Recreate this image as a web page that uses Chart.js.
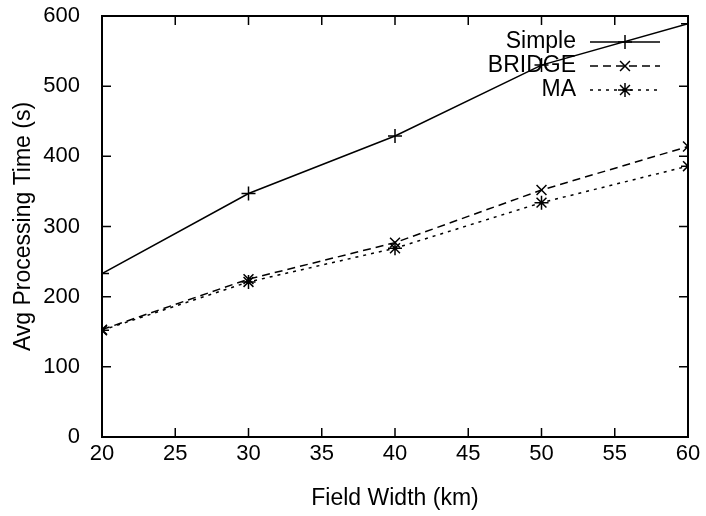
<!DOCTYPE html>
<html>
<head>
<meta charset="utf-8">
<script src="https://cdn.jsdelivr.net/npm/chart.js@4/dist/chart.umd.min.js"></script>
<style>
  html, body { margin: 0; padding: 0; background: #fff; }
  #wrap { width: 706px; height: 516px; position: relative; }
</style>
</head>
<body>
<div id="wrap"><canvas id="chart_processingTime"></canvas></div>
<script>
// values
var fieldWidths = [20, 30, 40, 50, 60];
var simpleTimes = [233, 347, 429, 530, 589];
var bridgeTimes = [153, 225, 277, 352, 414];
var maTimes = [152, 221, 269, 334, 386];
var xTickValues = [20, 25, 30, 35, 40, 45, 50, 55, 60];
var yTickValues = [0, 100, 200, 300, 400, 500, 600];

var FONT = '"Liberation Sans", Arial, sans-serif';

function toPoints(ys) {
    return fieldWidths.map(function (x, i) { return { x: x, y: ys[i] }; });
}

// gnuplot style frame: box + inward ticks on all four sides
var frameAndTicks = {
    id: 'frameAndTicks',
    afterDatasetsDraw: function (chart) {
        var ctx = chart.ctx, a = chart.chartArea;
        var xs = chart.scales.x, ys = chart.scales.y;
        var len = 9;
        ctx.save();
        ctx.strokeStyle = '#000';
        ctx.lineWidth = 1.5;
        ctx.beginPath();
        xTickValues.forEach(function (v) {
            var px = xs.getPixelForValue(v);
            ctx.moveTo(px, a.bottom); ctx.lineTo(px, a.bottom - len);
            ctx.moveTo(px, a.top); ctx.lineTo(px, a.top + len);
        });
        yTickValues.forEach(function (v) {
            var py = ys.getPixelForValue(v);
            ctx.moveTo(a.left, py); ctx.lineTo(a.left + len, py);
            ctx.moveTo(a.right, py); ctx.lineTo(a.right - len, py);
        });
        ctx.stroke();
        ctx.lineWidth = 2;
        ctx.strokeRect(a.left, a.top, a.right - a.left, a.bottom - a.top);
        ctx.restore();
    }
};

// key in the top right corner, text right aligned before the line sample
var keyBox = {
    id: 'keyBox',
    afterDraw: function (chart) {
        var ctx = chart.ctx, a = chart.chartArea;
        ctx.save();
        ctx.font = '23px ' + FONT;
        ctx.fillStyle = '#000';
        ctx.textAlign = 'right';
        ctx.textBaseline = 'middle';
        chart.data.datasets.forEach(function (ds, i) {
            var y = a.top + 26 + i * 24;
            var textRight = a.right - 112;
            var x0 = a.right - 98, x1 = a.right - 28;
            ctx.fillText(ds.label, textRight, y);
            ctx.strokeStyle = '#000';
            ctx.lineWidth = ds.borderWidth;
            ctx.setLineDash(ds.borderDash || []);
            ctx.beginPath();
            ctx.moveTo(x0, y); ctx.lineTo(x1, y);
            ctx.stroke();
            ctx.setLineDash([]);
            Chart.helpers.drawPoint(ctx, {
                pointStyle: ds.pointStyle,
                radius: ds.pointRadius,
                borderWidth: ds.pointBorderWidth,
                rotation: 0
            }, (x0 + x1) / 2, y);
        });
        ctx.restore();
    }
};

var whiteBackground = {
    id: 'whiteBackground',
    beforeDraw: function (chart) {
        var ctx = chart.canvas.getContext('2d');
        ctx.save();
        ctx.globalCompositeOperation = 'destination-over';
        ctx.fillStyle = 'white';
        ctx.fillRect(0, 0, chart.canvas.width, chart.canvas.height);
        ctx.restore();
    }
};

function series(label, ys, dash, style) {
    return {
        label: label,
        data: toPoints(ys),
        borderColor: '#000',
        backgroundColor: '#000',
        borderWidth: 1.5,
        borderDash: dash,
        pointStyle: style,
        pointRadius: 7,
        pointBorderWidth: 1.5,
        pointBorderColor: '#000',
        tension: 0
    };
}

var chart_processingTime = new Chart(document.getElementById('chart_processingTime'), {
    type: 'line',
    data: {
        datasets: [
            series('Simple', simpleTimes, [], 'cross'),
            series('BRIDGE', bridgeTimes, [8, 5], 'crossRot'),
            series('MA', maTimes, [3, 5], 'star')
        ]
    },
    options: {
        animation: false,
        responsive: true,
        maintainAspectRatio: false,
        layout: { padding: { top: 16, right: 18, left: 0, bottom: 0 } },
        plugins: {
            legend: { display: false },
            tooltip: { enabled: false }
        },
        scales: {
            x: {
                type: 'linear',
                min: 20,
                max: 60,
                afterBuildTicks: function (s) { s.ticks = xTickValues.map(function (v) { return { value: v }; }); },
                afterFit: function (s) { s.height = 79; s.paddingLeft = 0; s.paddingRight = 0; },
                grid: { display: false },
                border: { display: false },
                ticks: { color: '#000', padding: -4, font: { family: FONT, size: 22 }, maxRotation: 0 },
                title: {
                    display: true,
                    text: 'Field Width (km)',
                    color: '#000',
                    font: { family: FONT, size: 23 },
                    padding: { top: 6 }
                }
            },
            y: {
                type: 'linear',
                min: 0,
                max: 600,
                afterBuildTicks: function (s) { s.ticks = yTickValues.map(function (v) { return { value: v }; }); },
                afterFit: function (s) { s.width = 102; s.paddingTop = 0; s.paddingBottom = 0; },
                grid: { display: false },
                border: { display: false },
                ticks: { color: '#000', padding: 14, font: { family: FONT, size: 22 } },
                title: {
                    display: true,
                    text: 'Avg Processing Time (s)',
                    color: '#000',
                    font: { family: FONT, size: 23 },
                    padding: { top: 10, bottom: 4 }
                }
            }
        }
    },
    plugins: [whiteBackground, frameAndTicks, keyBox]
});
</script>
</body>
</html>
